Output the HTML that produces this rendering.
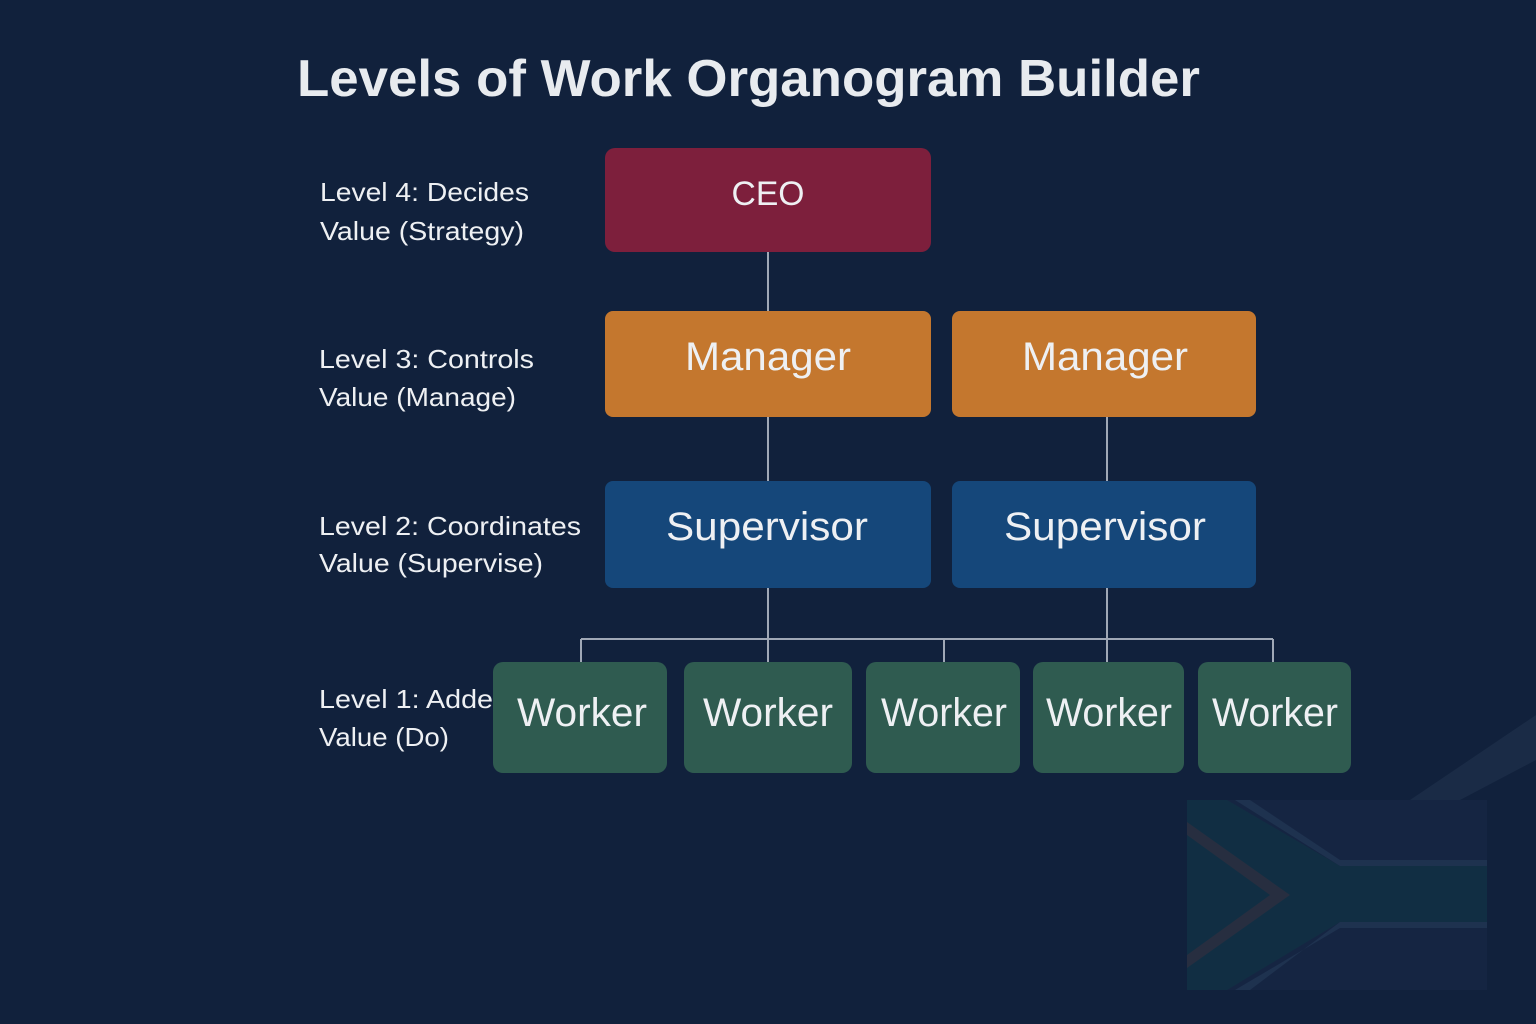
<!DOCTYPE html>
<html><head><meta charset="utf-8"><style>
html,body{margin:0;padding:0;background:#11213c;}
svg{display:block;font-family:"Liberation Sans",sans-serif;}
</style></head><body>
<svg width="1536" height="1024" viewBox="0 0 1536 1024">
<rect width="1536" height="1024" fill="#11213c"/>
<g opacity="0.55">
  <rect x="1187" y="800" width="300" height="190" fill="#1a2a48"/>
  <polygon points="1187,800 1227,800 1340,866 1487,866 1487,922 1340,922 1227,990 1187,990" fill="#123a4a"/>
  <polygon points="1187,822 1290,895 1187,968 1187,955 1270,895 1187,835" fill="#3a3a44"/>
  <polygon points="1250,800 1340,860 1487,860 1487,866 1340,866 1235,800" fill="#2a4060"/>
  <polygon points="1235,990 1340,928 1487,928 1487,922 1340,922 1250,990" fill="#2a4060"/>
  <polygon points="1410,800 1536,715 1536,760 1460,800" fill="#22344f"/>
</g>
<text x="297" y="96" font-size="52" font-weight="bold" fill="#e8ebef" textLength="903" lengthAdjust="spacingAndGlyphs">Levels of Work Organogram Builder</text>
<g stroke="#a0a8b6" stroke-width="2" fill="none">
  <line x1="768" y1="252" x2="768" y2="311"/>
  <line x1="768" y1="417" x2="768" y2="481"/>
  <line x1="1107" y1="417" x2="1107" y2="481"/>
  <line x1="768" y1="588" x2="768" y2="662"/>
  <line x1="1107" y1="588" x2="1107" y2="662"/>
  <line x1="581" y1="639" x2="1273" y2="639"/>
  <line x1="581" y1="639" x2="581" y2="662"/>
  <line x1="944" y1="639" x2="944" y2="662"/>
  <line x1="1273" y1="639" x2="1273" y2="662"/>
</g>
<g fill="#eef0f3" font-size="26">
  <text x="320" y="201" textLength="209" lengthAdjust="spacingAndGlyphs">Level 4: Decides</text>
  <text x="320" y="240" textLength="204" lengthAdjust="spacingAndGlyphs">Value (Strategy)</text>
  <text x="319" y="368" textLength="215" lengthAdjust="spacingAndGlyphs">Level 3: Controls</text>
  <text x="319" y="406" textLength="197" lengthAdjust="spacingAndGlyphs">Value (Manage)</text>
  <text x="319" y="535" textLength="262" lengthAdjust="spacingAndGlyphs">Level 2: Coordinates</text>
  <text x="319" y="572" textLength="224" lengthAdjust="spacingAndGlyphs">Value (Supervise)</text>
  <text x="319" y="708" textLength="190" lengthAdjust="spacingAndGlyphs">Level 1: Added</text>
  <text x="319" y="746" textLength="130" lengthAdjust="spacingAndGlyphs">Value (Do)</text>
</g>
<g>
  <rect x="605" y="148" width="326" height="104" rx="10" fill="#7d1f3c"/>
  <text x="768" y="205" font-size="34" fill="#eef0f3" text-anchor="middle" textLength="73" lengthAdjust="spacingAndGlyphs">CEO</text>
</g>
<g>
  <rect x="605" y="311" width="326" height="106" rx="8" fill="#c4772e"/>
  <text x="768" y="370" font-size="40" fill="#eef0f3" text-anchor="middle" textLength="166" lengthAdjust="spacingAndGlyphs">Manager</text>
</g>
<g>
  <rect x="952" y="311" width="304" height="106" rx="8" fill="#c4772e"/>
  <text x="1105" y="370" font-size="40" fill="#eef0f3" text-anchor="middle" textLength="166" lengthAdjust="spacingAndGlyphs">Manager</text>
</g>
<g>
  <rect x="605" y="481" width="326" height="107" rx="8" fill="#15477a"/>
  <text x="767" y="540" font-size="40" fill="#eef0f3" text-anchor="middle" textLength="202" lengthAdjust="spacingAndGlyphs">Supervisor</text>
</g>
<g>
  <rect x="952" y="481" width="304" height="107" rx="8" fill="#15477a"/>
  <text x="1105" y="540" font-size="40" fill="#eef0f3" text-anchor="middle" textLength="202" lengthAdjust="spacingAndGlyphs">Supervisor</text>
</g>
<g>
  <rect x="493" y="662" width="174" height="111" rx="10" fill="#2f5b50"/>
  <text x="582" y="726" font-size="40" fill="#eef0f3" text-anchor="middle" textLength="130" lengthAdjust="spacingAndGlyphs">Worker</text>
</g>
<g>
  <rect x="684" y="662" width="168" height="111" rx="10" fill="#2f5b50"/>
  <text x="768" y="726" font-size="40" fill="#eef0f3" text-anchor="middle" textLength="130" lengthAdjust="spacingAndGlyphs">Worker</text>
</g>
<g>
  <rect x="866" y="662" width="154" height="111" rx="10" fill="#2f5b50"/>
  <text x="944" y="726" font-size="40" fill="#eef0f3" text-anchor="middle" textLength="126" lengthAdjust="spacingAndGlyphs">Worker</text>
</g>
<g>
  <rect x="1033" y="662" width="151" height="111" rx="10" fill="#2f5b50"/>
  <text x="1109" y="726" font-size="40" fill="#eef0f3" text-anchor="middle" textLength="126" lengthAdjust="spacingAndGlyphs">Worker</text>
</g>
<g>
  <rect x="1198" y="662" width="153" height="111" rx="10" fill="#2f5b50"/>
  <text x="1275" y="726" font-size="40" fill="#eef0f3" text-anchor="middle" textLength="126" lengthAdjust="spacingAndGlyphs">Worker</text>
</g>
</svg>
</body></html>
